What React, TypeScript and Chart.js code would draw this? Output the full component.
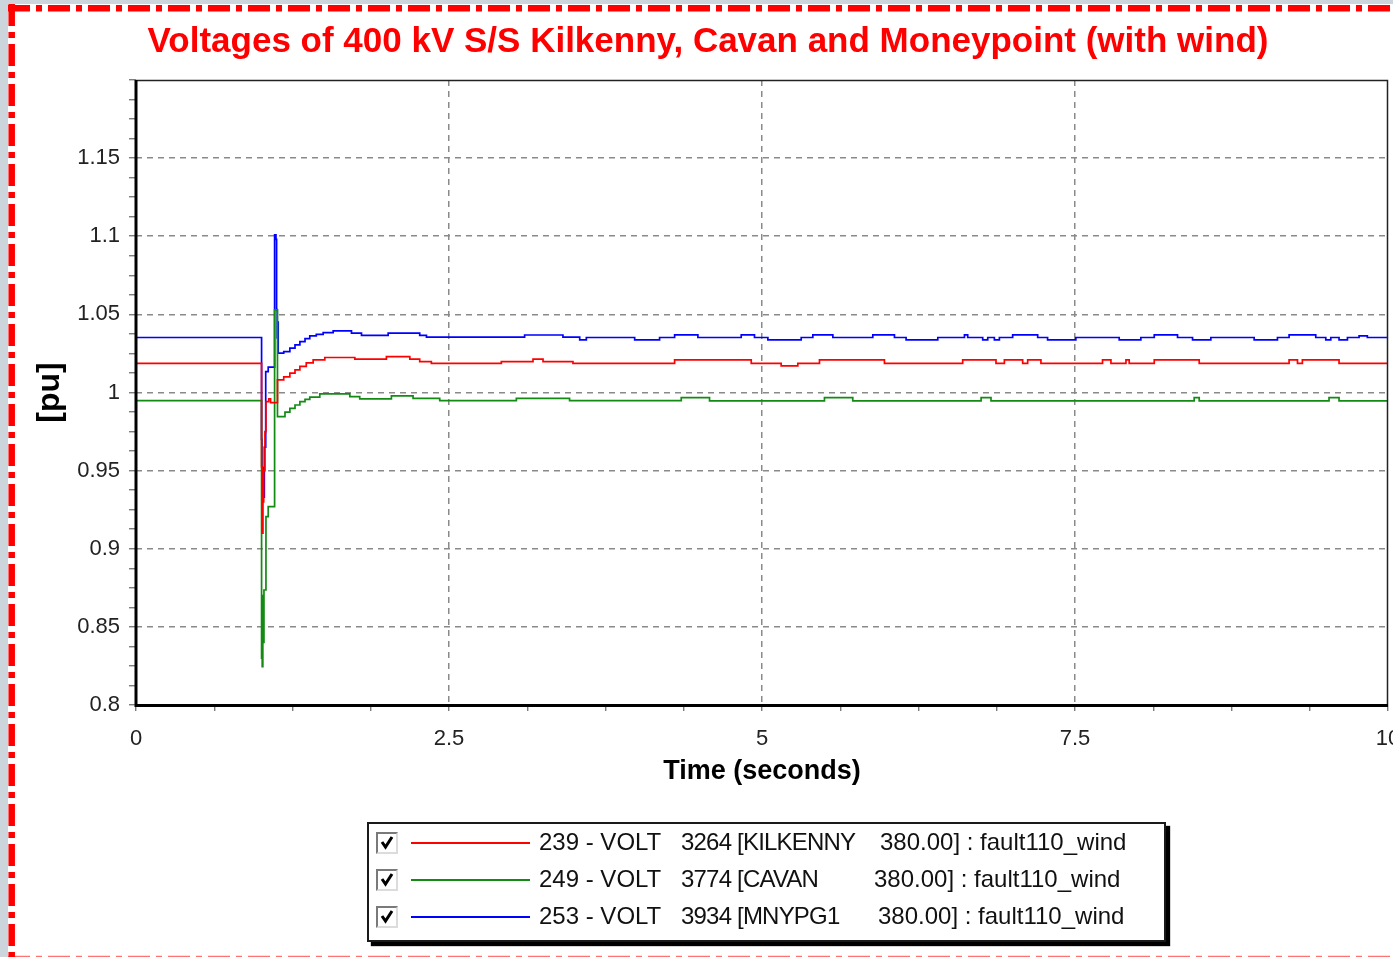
import React, { useEffect, useRef } from "react";
import { Chart, registerables } from "chart.js";

Chart.register(...registerables);

// ---------- text ----------
const chartTitle = "Voltages of 400 kV S/S Kilkenny, Cavan and Moneypoint (with wind)";
const xAxisTitle = "Time (seconds)";
const yAxisTitle = "[pu]";
const xTickLabels = ["0", "2.5", "5", "7.5", "10"];
const yTickLabels = ["0.8", "0.85", "0.9", "0.95", "1", "1.05", "1.1", "1.15"];

// ---------- legend ----------
const legendBus = ["239 - VOLT", "249 - VOLT", "253 - VOLT"];
const legendName = ["3264 [KILKENNY", "3774 [CAVAN", "3934 [MNYPG1"];
const legendCase = ["380.00] : fault110_wind", "380.00] : fault110_wind", "380.00] : fault110_wind"];
const seriesColors = ["#ff0000", "#138a13", "#0000ff"];

// ---------- data: [time (s), voltage (pu)] step points ----------
const kilkenny: [number, number][] = [
  [0, 1.0187], [1.003, 0.9526], [1.008, 0.91], [1.014, 0.93], [1.02, 0.95], [1.03, 0.975],
  [1.038, 0.9942], [1.06, 0.996], [1.075, 0.9935], [1.13, 1.0081],
  [1.18, 1.01], [1.229, 1.0124], [1.27, 1.0145], [1.309, 1.0167], [1.36, 1.019], [1.415, 1.0209],
  [1.508, 1.0224], [1.748, 1.0213], [2.0, 1.023], [2.187, 1.0213], [2.266, 1.0198], [2.359, 1.0187],
  [2.918, 1.0198], [3.171, 1.0213], [3.251, 1.0198], [3.49, 1.0187], [4.302, 1.0209], [4.914, 1.0187],
  [5.153, 1.017], [5.286, 1.0187], [5.459, 1.0209], [5.978, 1.0187], [6.603, 1.0209], [6.869, 1.0187],
  [6.936, 1.0209], [7.082, 1.0187], [7.122, 1.0209], [7.228, 1.0187], [7.72, 1.0209], [7.787, 1.0187],
  [7.907, 1.0209], [7.933, 1.0187], [8.133, 1.0209], [8.492, 1.0187], [9.21, 1.0209], [9.277, 1.0187],
  [9.316, 1.0209], [9.609, 1.0187], [10, 1.0187],
];

const cavan: [number, number][] = [
  [0, 0.9948], [1.003, 0.83], [1.008, 0.8245], [1.013, 0.87], [1.017, 0.84], [1.022, 0.8736],
  [1.038, 0.9206], [1.056, 0.927], [1.107, 1.0529], [1.13, 0.9846], [1.19, 0.9875], [1.229, 0.9899],
  [1.27, 0.992], [1.309, 0.9942], [1.35, 0.9956], [1.388, 0.997], [1.468, 0.9991], [1.708, 0.9974],
  [1.787, 0.9959], [2.04, 0.9978], [2.213, 0.9963], [2.426, 0.9948], [3.038, 0.9963], [3.463, 0.9948],
  [4.355, 0.9967], [4.581, 0.9946], [5.499, 0.9967], [5.725, 0.9946], [6.75, 0.9967], [6.829, 0.9946],
  [8.452, 0.9967], [8.492, 0.9946], [9.529, 0.9967], [9.609, 0.9946], [10, 0.9946],
];

const moneypoint: [number, number][] = [
  [0, 1.0352], [1.003, 0.97], [1.006, 0.935], [1.012, 0.952], [1.018, 0.933], [1.025, 0.965],
  [1.036, 1.0134], [1.056, 1.0162], [1.107, 1.1009], [1.118, 1.098], [1.123, 1.053], [1.128, 1.035],
  [1.132, 1.045], [1.136, 1.0252], [1.18, 1.0262], [1.229, 1.0284], [1.27, 1.0305], [1.309, 1.0326],
  [1.35, 1.0345], [1.388, 1.0362], [1.44, 1.0372], [1.495, 1.0383], [1.575, 1.0394], [1.721, 1.038],
  [1.801, 1.0365], [2.014, 1.038], [2.266, 1.0365], [2.32, 1.0354], [3.104, 1.0368], [3.41, 1.0354],
  [3.544, 1.0337], [3.597, 1.0352], [3.983, 1.0337], [4.182, 1.0352], [4.302, 1.0369], [4.488, 1.0352],
  [4.834, 1.0369], [4.94, 1.0352], [5.047, 1.0337], [5.313, 1.0352], [5.406, 1.0369], [5.566, 1.0352],
  [5.885, 1.0369], [6.058, 1.0352], [6.151, 1.0337], [6.404, 1.0352], [6.617, 1.0369], [6.643, 1.0352],
  [6.763, 1.0337], [6.803, 1.0352], [6.856, 1.0337], [6.896, 1.0352], [7.002, 1.0369], [7.202, 1.0352],
  [7.281, 1.0337], [7.507, 1.0352], [7.853, 1.0337], [8.026, 1.0352], [8.133, 1.0369], [8.319, 1.0352],
  [8.439, 1.0337], [8.585, 1.0352], [8.931, 1.0337], [9.117, 1.0352], [9.21, 1.0369], [9.423, 1.0352],
  [9.503, 1.0337], [9.543, 1.0352], [9.609, 1.0337], [9.676, 1.0352], [9.769, 1.0362], [9.835, 1.0352],
  [10, 1.0352],
];

const seriesData = [kilkenny, cavan, moneypoint];

const FONT = "'Liberation Sans', Arial, sans-serif";
const W = 1393;
const H = 957;

const isMultiple = (v: number, step: number) => Math.abs(v - Math.round(v / step) * step) < 1e-6;

export default function App() {
  const canvasRef = useRef<HTMLCanvasElement>(null);

  useEffect(() => {
    document.body.style.margin = "0";
    const canvas = canvasRef.current;
    if (!canvas) return;

    const panelPlugin = {
      id: "panel",
      beforeDraw(chart: any) {
        const c = chart.ctx;
        c.save();
        c.fillStyle = "#cbd5db";
        c.fillRect(0, 0, W, H);
        c.fillStyle = "#ffffff";
        c.fillRect(8, 4, W - 8, H - 4);
        c.strokeStyle = "#ff0000";
        c.lineWidth = 6.5;
        c.setLineDash([22, 6, 6, 6]);
        c.beginPath();
        c.moveTo(8, 8.3);
        c.lineTo(W, 8.3);
        c.stroke();
        c.beginPath();
        c.moveTo(11.7, 4);
        c.lineTo(11.7, H);
        c.stroke();
        c.strokeStyle = "rgba(255,0,0,0.55)";
        c.beginPath();
        c.moveTo(8, H + 2);
        c.lineTo(W, H + 2);
        c.stroke();
        c.restore();
      },
      afterDraw(chart: any) {
        const { left, right, top, bottom } = chart.chartArea;
        const c = chart.ctx;
        c.save();
        c.setLineDash([]);
        c.strokeStyle = "#222";
        c.lineWidth = 1.5;
        c.beginPath();
        c.moveTo(left, top + 0.5);
        c.lineTo(right - 0.5, top + 0.5);
        c.lineTo(right - 0.5, bottom);
        c.stroke();
        c.strokeStyle = "#000";
        c.lineWidth = 3;
        c.beginPath();
        c.moveTo(left, top);
        c.lineTo(left, bottom + 0.5);
        c.lineTo(right, bottom + 0.5);
        c.stroke();
        c.restore();
      },
    };

    const chart = new Chart(canvas, {
      type: "line",
      data: {
        datasets: seriesData.map((s, i) => ({
          label: `${legendBus[i]} ${legendName[i]} ${legendCase[i]}`,
          data: s.map(([x, y]) => ({ x, y })),
          borderColor: seriesColors[i],
          backgroundColor: seriesColors[i],
          borderWidth: 1.7,
          pointRadius: 0,
          stepped: true,
          fill: false,
        })),
      },
      options: {
        responsive: false,
        animation: false,
        events: [],
        layout: { padding: { left: 28, right: 5, top: 0, bottom: H - 705 - 90 } },
        plugins: {
          legend: { display: false },
          tooltip: { enabled: false },
          title: {
            display: true,
            text: chartTitle,
            color: "#ff0000",
            font: { family: FONT, size: 35, weight: "bold" },
            padding: { top: 21.5, bottom: 16.5 },
          },
        },
        scales: {
          x: {
            type: "linear",
            min: 0,
            max: 10,
            afterFit: (s: any) => {
              s.height = 90;
              s.paddingLeft = 0;
              s.paddingRight = 0;
            },
            ticks: {
              stepSize: 0.625,
              autoSkip: false,
              maxRotation: 0,
              minRotation: 0,
              padding: 15,
              color: "#222",
              font: { family: FONT, size: 22 },
              callback: (v: any) => {
                const n = Number(v);
                return isMultiple(n, 2.5) ? xTickLabels[Math.round(n / 2.5)] : "";
              },
            },
            grid: {
              color: (ctx: any) => {
                const v = ctx.tick ? ctx.tick.value : 0;
                return isMultiple(v, 2.5) && v > 0.1 && v < 9.9 ? "#8a8a8a" : "rgba(0,0,0,0)";
              },
              lineWidth: 1.5,
              tickColor: "#666",
              tickLength: 6,
              tickWidth: 1.2,
            },
            border: { display: false, dash: [6, 5] },
            title: {
              display: true,
              text: xAxisTitle,
              color: "#000",
              font: { family: FONT, size: 27, weight: "bold" },
              padding: { top: 0, bottom: 7.5 },
            },
          },
          y: {
            type: "linear",
            min: 0.8,
            max: 1.2,
            afterFit: (s: any) => {
              s.width = 136 - 28;
              s.paddingTop = 0;
              s.paddingBottom = 0;
            },
            ticks: {
              stepSize: 0.0125,
              autoSkip: false,
              padding: 9,
              color: "#222",
              font: { family: FONT, size: 22 },
              callback: (v: any) => {
                const n = Number(v);
                if (!isMultiple(n, 0.05)) return "";
                const idx = Math.round((n - 0.8) / 0.05);
                return yTickLabels[idx] ?? "";
              },
            },
            grid: {
              color: (ctx: any) => {
                const v = ctx.tick ? ctx.tick.value : 0;
                return isMultiple(v, 0.05) && v > 0.81 && v < 1.19 ? "#8a8a8a" : "rgba(0,0,0,0)";
              },
              lineWidth: 1.5,
              tickColor: "#666",
              tickLength: 7,
              tickWidth: 1.2,
            },
            border: { display: false, dash: [6, 5] },
            title: {
              display: true,
              text: yAxisTitle,
              color: "#000",
              font: { family: FONT, size: 32, weight: "bold" },
              padding: { top: 3, bottom: 0 },
            },
          },
        },
      },
      plugins: [panelPlugin],
    } as any);

    return () => chart.destroy();
  }, []);

  const rowTop = (i: number) => 8 + 37 * i;
  const caseLeft = [511, 505, 509];

  return (
    <div style={{ position: "absolute", left: 0, top: 0, width: W, height: H, overflow: "hidden" }}>
      <canvas ref={canvasRef} width={W} height={H} style={{ display: "block", width: W, height: H }} />
      <div
        style={{
          position: "absolute",
          left: 367,
          top: 822,
          width: 799,
          height: 120,
          boxSizing: "border-box",
          border: "2px solid #1a1a1a",
          background: "#fff",
          boxShadow: "4px 4px 1px #000",
          fontFamily: FONT,
          fontSize: 24,
          color: "#111",
        }}
      >
        {legendBus.map((bus, i) => (
          <div key={i}>
            <span
              style={{
                position: "absolute",
                left: 7,
                top: rowTop(i),
                width: 22,
                height: 22,
                boxSizing: "border-box",
                borderTop: "2px solid #7a7a7a",
                borderLeft: "2px solid #7a7a7a",
                borderBottom: "2px solid #dcdcdc",
                borderRight: "2px solid #dcdcdc",
                background: "#fff",
              }}
            >
              <svg width="18" height="18" style={{ position: "absolute", left: 0, top: 0 }}>
                <path d="M4 8 L7.5 13 L14 3" stroke="#000" strokeWidth="3" fill="none" />
              </svg>
            </span>
            <span
              style={{
                position: "absolute",
                left: 42,
                top: rowTop(i) + 10,
                width: 119,
                height: 2,
                background: seriesColors[i],
              }}
            />
            <span style={{ position: "absolute", left: 170, top: rowTop(i) - 3, lineHeight: "26px", whiteSpace: "pre" }}>
              {bus}
            </span>
            <span
              style={{
                position: "absolute",
                left: 312,
                top: rowTop(i) - 3,
                lineHeight: "26px",
                whiteSpace: "pre",
                letterSpacing: "-0.8px",
              }}
            >
              {legendName[i]}
            </span>
            <span
              style={{ position: "absolute", left: caseLeft[i], top: rowTop(i) - 3, lineHeight: "26px", whiteSpace: "pre" }}
            >
              {legendCase[i]}
            </span>
          </div>
        ))}
      </div>
    </div>
  );
}
